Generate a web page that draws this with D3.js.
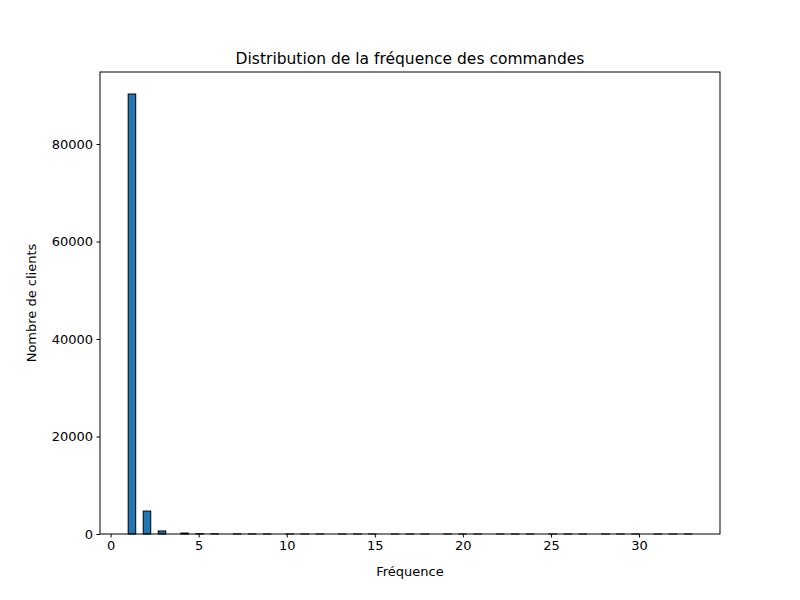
<!DOCTYPE html>
<html><head><meta charset="utf-8">
<script src="https://cdn.jsdelivr.net/npm/d3@7"></script>
<style>body{margin:0;background:#fff}</style></head>
<body><svg id="c" width="800" height="600"></svg>
<script>
const frequencies = [1,2,3,4,5,6,7,8,9,10,11,12,13,14,15,16,17,18,19,20,21,22,23,24,25,26,27,28,29,30,31,32,33];
const clientCounts = [90256,4700,620,190,60,35,25,12,8,6,4,3,3,2,2,2,1,1,1,1,1,1,1,1,1,1,1,1,1,1,1,1,1];
const xTicks = [0,5,10,15,20,25,30];
const yTicks = [0,20000,40000,60000,80000];
const nBins = 75;

const svg = d3.select("#c");
const L=100,R=720,T=72,B=534;
const lo=1,hi=33,w=(hi-lo)/nBins;
const bins = d3.range(nBins).map(k=>({x0:lo+k*w,x1:lo+(k+1)*w,n:0}));
frequencies.forEach((f,i)=>{let k=Math.min(nBins-1,Math.floor((f-lo)/w+1e-9));bins[k].n+=clientCounts[i];});
const maxN=d3.max(bins,d=>d.n);
const x=d3.scaleLinear().domain([lo-(hi-lo)*0.05,hi+(hi-lo)*0.05]).range([L,R]);
const y=d3.scaleLinear().domain([0,maxN*1.05]).range([B,T]);

svg.selectAll("rect.b").data(bins).join("rect").attr("class","b")
 .attr("x",d=>x(d.x0)).attr("width",d=>x(d.x1)-x(d.x0))
 .attr("y",d=>y(d.n)).attr("height",d=>B-y(d.n))
 .attr("fill","#1f77b4").attr("stroke","#000").attr("stroke-width",1);

const font="DejaVu Sans";
const xa=svg.append("g").attr("transform",`translate(0,${B})`)
 .call(d3.axisBottom(x).tickValues(xTicks).tickSizeOuter(0).tickSize(3.5).tickPadding(3.5));
const ya=svg.append("g").attr("transform",`translate(${L},0)`)
 .call(d3.axisLeft(y).tickValues(yTicks).tickFormat(d3.format("d")).tickSizeOuter(0).tickSize(3.5).tickPadding(3.5));
[xa,ya].forEach(a=>{a.select(".domain").remove();a.selectAll("text").attr("font-family",font).attr("font-size",13).attr("fill","#000");a.selectAll("line").attr("stroke","#000");});
svg.append("rect").attr("x",L).attr("y",T).attr("width",R-L).attr("height",B-T).attr("fill","none").attr("stroke","#000").attr("stroke-width",1);

svg.append("text").attr("x",(L+R)/2).attr("y",64).attr("text-anchor","middle").attr("font-family",font).attr("font-size",15.5).text("Distribution de la fréquence des commandes");
svg.append("text").attr("x",(L+R)/2).attr("y",576).attr("text-anchor","middle").attr("font-family",font).attr("font-size",13).text("Fréquence");
svg.append("text").attr("transform",`translate(36,${(T+B)/2}) rotate(-90)`).attr("text-anchor","middle").attr("font-family",font).attr("font-size",13).text("Nombre de clients");
</script></body></html>
